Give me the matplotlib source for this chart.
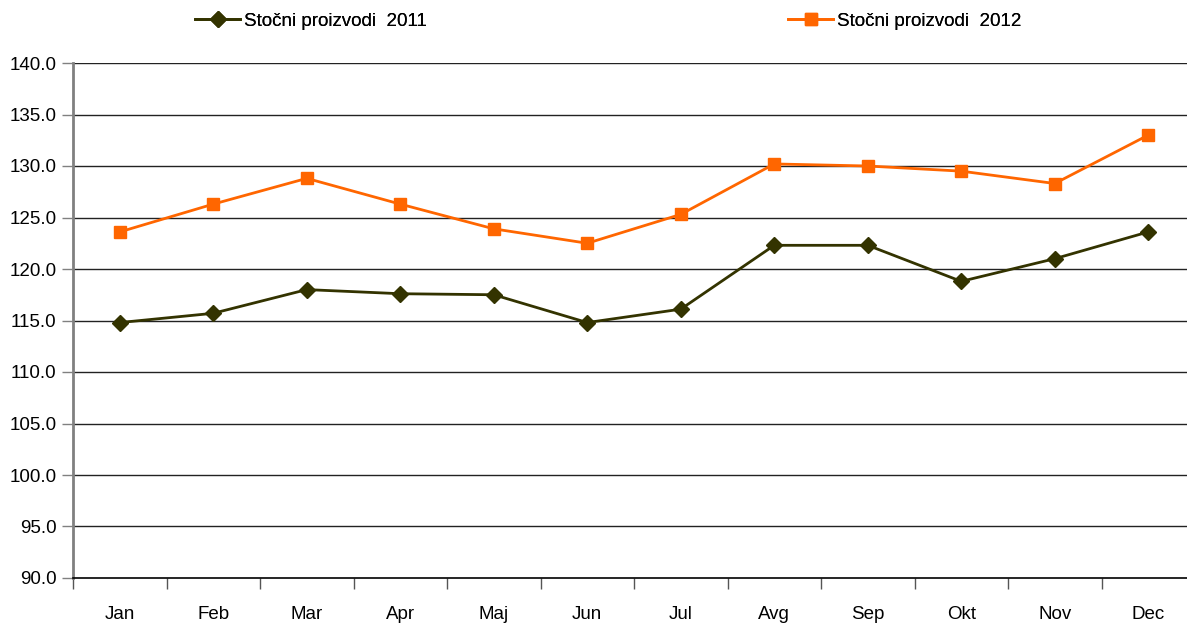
import matplotlib

matplotlib.use("Agg")
import matplotlib.pyplot as plt
import numpy as np

months = ["Jan", "Feb", "Mar", "Apr", "Maj", "Jun", "Jul", "Avg", "Sep", "Okt", "Nov", "Dec"]
v2011 = [114.8, 115.7, 118.0, 117.6, 117.5, 114.8, 116.1, 122.3, 122.3, 118.8, 121.0, 123.6]
v2012 = [123.6, 126.3, 128.8, 126.3, 123.9, 122.5, 125.3, 130.2, 130.0, 129.5, 128.3, 133.0]
label2011 = "Stočni proizvodi  2011"
label2012 = "Stočni proizvodi  2012"
yticks = np.arange(90, 141, 5)

plt.rcParams["font.family"] = ["Liberation Sans", "DejaVu Sans"]
FS = 13.5

fig = plt.figure(figsize=(11.87, 6.23), dpi=100)
ax = fig.add_axes([73 / 1187, 45 / 623, 1122 / 1187, 515 / 623])

x = np.arange(len(months))
l1, = ax.plot(x, v2011, "-D", color="#333300", lw=2, ms=8.5, label=label2011)
l2, = ax.plot(x, v2012, "-s", color="#FF6600", lw=2, ms=9, label=label2012)

ax.set_xlim(-0.5, 11.5)
ax.set_ylim(90, 140)
ax.set_yticks(yticks)
ax.set_yticklabels([f"{v:.1f}" for v in yticks])
ax.set_xticks(x)
ax.set_xticklabels(months)
ax.set_xticks(np.arange(-0.5, 12, 1), minor=True)
ax.tick_params(axis="x", which="major", length=0, pad=20, labelsize=FS)
ax.tick_params(axis="x", which="minor", length=8, width=1, color="#555555")
ax.tick_params(axis="y", length=8, width=1, color="#808080", labelsize=FS, pad=4)

for y in yticks[1:]:
    ax.axhline(y, color="#222222", lw=1, zorder=0)
for s in ("top", "right"):
    ax.spines[s].set_visible(False)
ax.spines["left"].set_color("#808080")
ax.spines["left"].set_linewidth(2)
ax.spines["bottom"].set_color("black")
ax.spines["bottom"].set_linewidth(1.2)

# two legend entries placed separately, like the original
for handle, xpos in ((l1, 195), (l2, 788)):
    leg = fig.legend(handles=[handle], loc="center left",
                     bbox_to_anchor=(xpos / 1187, 1 - 21 / 623),
                     frameon=False, fontsize=FS, handlelength=2.4,
                     handletextpad=0.2, borderpad=0, borderaxespad=0)
    fig.add_artist(leg)

fig.savefig("out.png", dpi=100)
